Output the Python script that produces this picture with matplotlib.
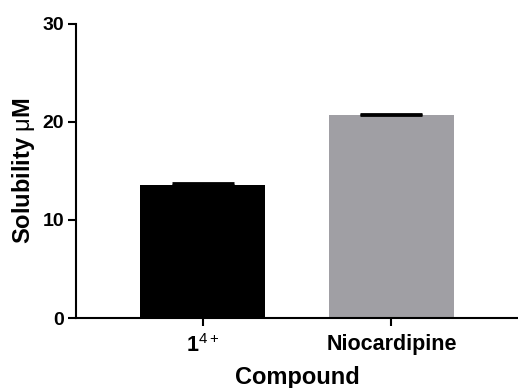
import matplotlib.pyplot as plt

compounds = ["$\\mathbf{1}^{\\mathrm{4+}}$", "Niocardipine"]
solubility = [13.6, 20.7]
err = [0.2, 0.1]
colors = ["#000000", "#a09fa4"]

plt.rcParams['font.family'] = ['Liberation Sans', 'DejaVu Sans']
plt.rcParams['mathtext.fontset'] = 'custom'
plt.rcParams['mathtext.rm'] = 'Liberation Sans'
plt.rcParams['mathtext.it'] = 'Liberation Sans'
plt.rcParams['mathtext.bf'] = 'Liberation Sans:bold'

fig = plt.figure(figsize=(5.18, 3.88), dpi=100)
ax = fig.add_axes([0.1467, 0.1804, 0.8533, 0.758])

x = range(len(compounds))
ax.bar(x, solubility, width=0.66, color=colors)
ax.errorbar(x, solubility, yerr=[[0, 0], err], fmt='none', ecolor='black',
            elinewidth=1.5, capsize=22, capthick=2)

ax.set_xlim(-0.67, 1.67)
ax.set_ylim(0, 30)
ax.set_yticks([0, 10, 20, 30])
ax.set_xticks(list(x))
ax.set_xticklabels(compounds, fontsize=15.5, fontweight='bold')
for lab in ax.get_yticklabels():
    lab.set_fontsize(14)
    lab.set_fontweight('bold')

ax.spines['top'].set_visible(False)
ax.spines['right'].set_visible(False)
ax.spines['left'].set_linewidth(1.5)
ax.spines['bottom'].set_linewidth(1.5)
ax.tick_params(width=1.5, length=5.5)
ax.tick_params(axis='y', pad=3)
ax.tick_params(axis='x', pad=6)

ax.set_ylabel("Solubility $\\mu$M", fontsize=17, fontweight='bold', labelpad=4)
ax.set_xlabel("Compound", fontsize=17, fontweight='bold', labelpad=6.5)

fig.savefig("out.png", dpi=100)
